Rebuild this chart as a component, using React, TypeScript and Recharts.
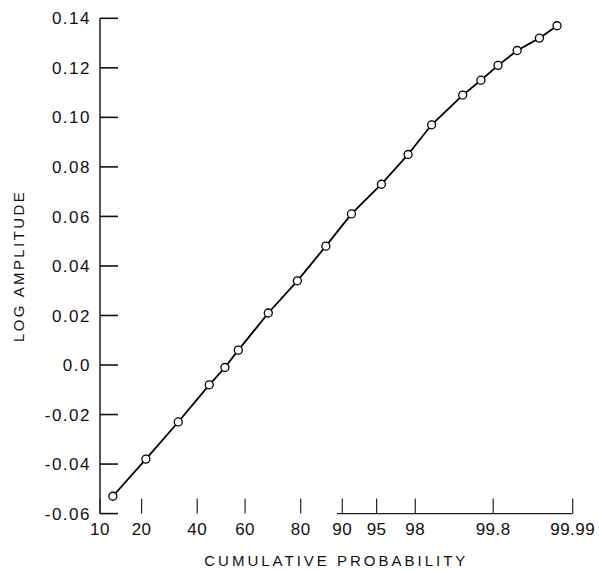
import { LineChart, Line, XAxis, YAxis, ReferenceLine } from 'recharts'

// cumulative probability (%) and log amplitude
const probability = [12.6, 21.3, 32.5, 45.0, 51.6, 57.2, 69.1, 79.0, 86.6, 91.6, 95.5, 97.6, 98.7, 99.47, 99.7, 99.83, 99.913, 99.962, 99.981]
const logAmplitude = [-0.053, -0.038, -0.023, -0.008, -0.001, 0.006, 0.021, 0.034, 0.048, 0.061, 0.073, 0.085, 0.097, 0.109, 0.115, 0.121, 0.127, 0.132, 0.137]

const xTicks = [10, 20, 40, 60, 80, 90, 95, 98, 99.8, 99.99]
const xTickLabels = ['10', '20', '40', '60', '80', '90', '95', '98', '99.8', '99.99']
const yTicks = [0.14, 0.12, 0.1, 0.08, 0.06, 0.04, 0.02, 0, -0.02, -0.04, -0.06]
const yTickLabels = ['0.14', '0.12', '0.10', '0.08', '0.06', '0.04', '0.02', '0.0', '-0.02', '-0.04', '-0.06']
const axisSegment = [89, 99.99]

const FONT = '"Liberation Sans", Arial, sans-serif'

// inverse normal cdf (Acklam), percent in -> z out
function probit(pct: number): number {
  const p = pct / 100
  const a = [-39.69683028665376, 220.9460984245205, -275.9285104469687, 138.357751867269, -30.66479806614716, 2.506628277459239]
  const b = [-54.47609879822406, 161.5858368580409, -155.6989798598866, 66.80131188771972, -13.28068155288572]
  const c = [-0.007784894002430293, -0.3223964580411365, -2.400758277161838, -2.549732539343734, 4.374664141464968, 2.938163982698783]
  const d = [0.007784695709041462, 0.3224671290700398, 2.445134137142996, 3.754408661907416]
  const pl = 0.02425
  if (p < pl) {
    const q = Math.sqrt(-2 * Math.log(p))
    return (((((c[0] * q + c[1]) * q + c[2]) * q + c[3]) * q + c[4]) * q + c[5]) / ((((d[0] * q + d[1]) * q + d[2]) * q + d[3]) * q + 1)
  }
  if (p > 1 - pl) {
    const q = Math.sqrt(-2 * Math.log(1 - p))
    return -(((((c[0] * q + c[1]) * q + c[2]) * q + c[3]) * q + c[4]) * q + c[5]) / ((((d[0] * q + d[1]) * q + d[2]) * q + d[3]) * q + 1)
  }
  const q = p - 0.5
  const r = q * q
  return ((((((a[0] * r + a[1]) * r + a[2]) * r + a[3]) * r + a[4]) * r + a[5]) * q) / (((((b[0] * r + b[1]) * r + b[2]) * r + b[3]) * r + b[4]) * r + 1)
}

const data = probability.map((p, i) => ({ z: probit(p), amp: logAmplitude[i] }))

function XTick({ x, y, index }: { x: number; y: number; index: number }) {
  return (
    <g>
      <line x1={x} x2={x} y1={y - 15} y2={y} stroke="#222" strokeWidth={1.2} />
      <text x={x} y={y + 21} textAnchor="middle" fontSize={17} fontFamily={FONT} fill="#111" letterSpacing={0.5}>
        {xTickLabels[index]}
      </text>
    </g>
  )
}

// ticks point inward, like the original plot
function YTick({ x, y, index }: { x: number; y: number; index: number }) {
  return (
    <g>
      <line x1={x} x2={x + 18} y1={y} y2={y} stroke="#111" strokeWidth={1.6} />
      <text x={x - 9} y={y} dy="0.36em" textAnchor="end" fontSize={17} fontFamily={FONT} fill="#111" letterSpacing={1.5}>
        {yTickLabels[index]}
      </text>
    </g>
  )
}

export default function App() {
  return (
    <div style={{ position: 'absolute', left: 0, top: 0, width: 599, height: 571, background: '#fff' }}>
      <LineChart width={599} height={571} data={data} margin={{ top: 18.3, right: 26.3, bottom: 17.4, left: 20 }}>
        <XAxis
          type="number"
          dataKey="z"
          domain={[probit(10), probit(99.99)]}
          ticks={xTicks.map(probit)}
          interval={0}
          axisLine={false}
          tickLine={false}
          tickSize={0}
          tickMargin={0}
          height={40}
          tick={(props: any) => <XTick {...props} />}
          label={{
            value: 'CUMULATIVE PROBABILITY',
            position: 'bottom',
            offset: 2,
            style: { fontSize: 15, fontFamily: FONT, fill: '#111', letterSpacing: 3 },
          }}
        />
        <YAxis
          type="number"
          domain={[-0.06, 0.14]}
          ticks={yTicks}
          interval={0}
          axisLine={{ stroke: '#111', strokeWidth: 1.4 }}
          tickLine={false}
          tickSize={0}
          tickMargin={0}
          width={80}
          tick={(props: any) => <YTick {...props} />}
          label={{
            value: 'LOG AMPLITUDE',
            angle: -90,
            position: 'insideLeft',
            offset: -1,
            style: { fontSize: 15, fontFamily: FONT, fill: '#111', letterSpacing: 2.4, textAnchor: 'middle' },
          }}
        />
        <ReferenceLine
          segment={[
            { x: probit(axisSegment[0]), y: -0.06 },
            { x: probit(axisSegment[1]), y: -0.06 },
          ]}
          stroke="#222"
          strokeWidth={1.2}
        />
        <Line
          type="linear"
          dataKey="amp"
          stroke="#000"
          strokeWidth={1.8}
          dot={{ r: 4, fill: '#fff', stroke: '#000', strokeWidth: 1.3 }}
          isAnimationActive={false}
        />
      </LineChart>
    </div>
  )
}
